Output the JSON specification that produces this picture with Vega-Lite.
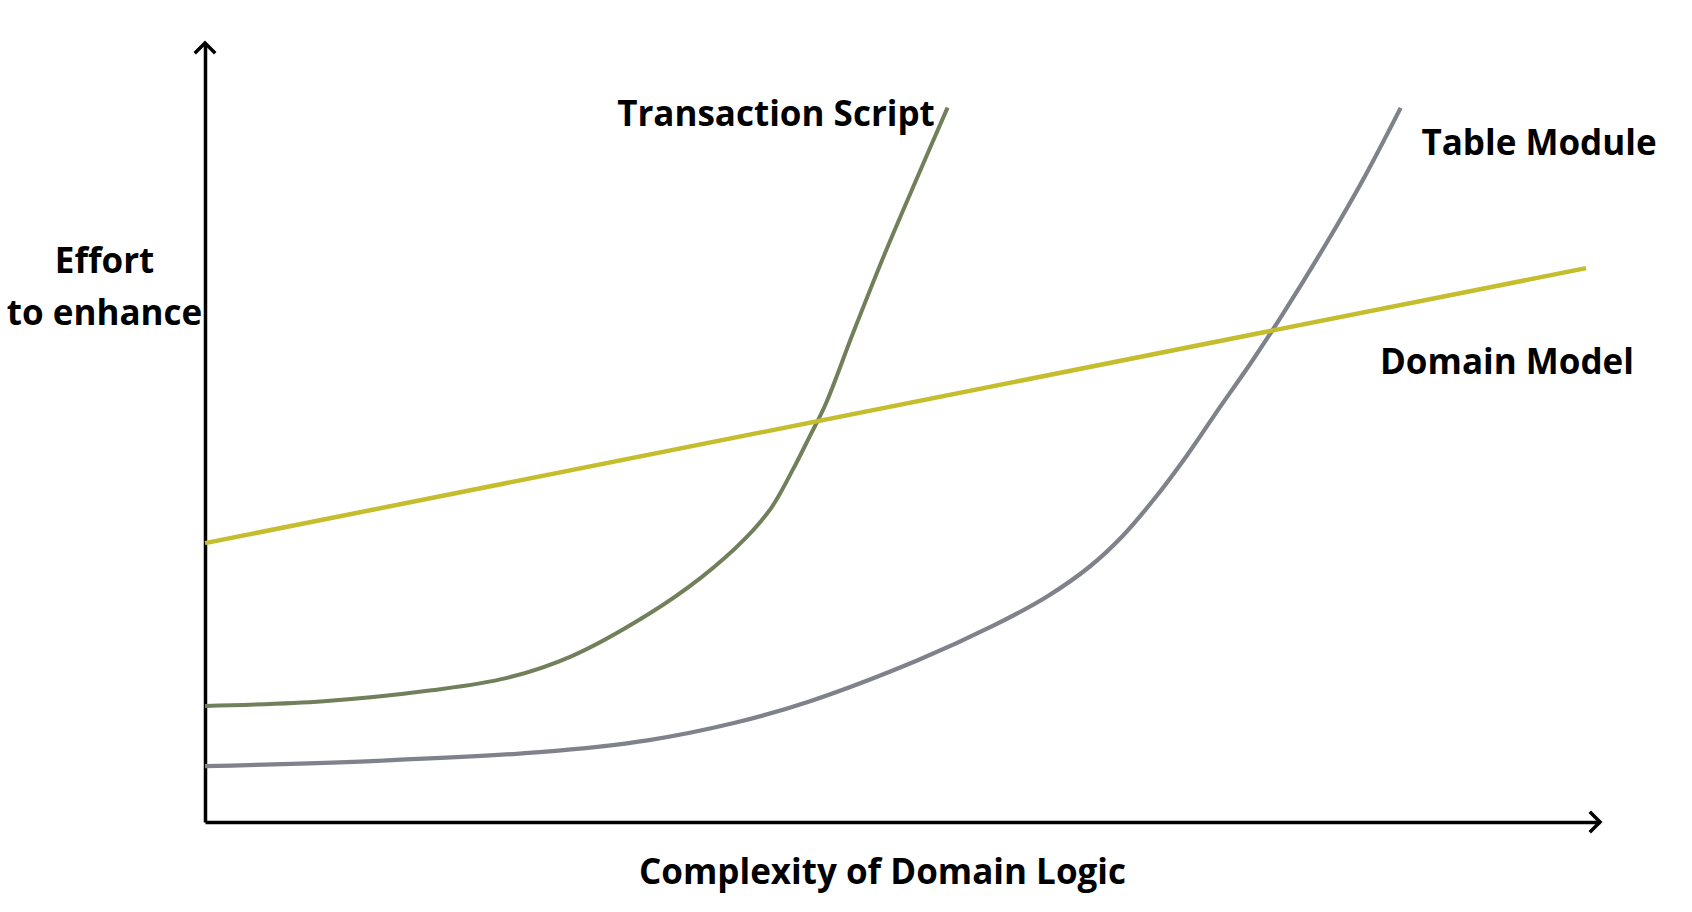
{
  "$schema": "https://vega.github.io/schema/vega-lite/v6.json",
  "width": 1395,
  "height": 779,
  "autosize": {"type": "none"},
  "padding": {"left": 205, "top": 43, "right": 92, "bottom": 90},
  "background": "white",
  "config": {"view": {"stroke": null}, "font": "Open Sans"},
  "datasets": {
    "curves": [
      {"series": "Transaction Script", "complexity": 0, "effort": 14.9},
      {"series": "Transaction Script", "complexity": 8.51, "effort": 15.5},
      {"series": "Transaction Script", "complexity": 16.24, "effort": 16.9},
      {"series": "Transaction Script", "complexity": 21.66, "effort": 18.5},
      {"series": "Transaction Script", "complexity": 26.3, "effort": 21.3},
      {"series": "Transaction Script", "complexity": 31.72, "effort": 26.6},
      {"series": "Transaction Script", "complexity": 35.58, "effort": 31.4},
      {"series": "Transaction Script", "complexity": 38.68, "effort": 36.3},
      {"series": "Transaction Script", "complexity": 40.62, "effort": 40.4},
      {"series": "Transaction Script", "complexity": 42.16, "effort": 45.3},
      {"series": "Transaction Script", "complexity": 43.32, "effort": 49.4},
      {"series": "Transaction Script", "complexity": 44.48, "effort": 53.6},
      {"series": "Transaction Script", "complexity": 46.42, "effort": 62.6},
      {"series": "Transaction Script", "complexity": 48.74, "effort": 73.0},
      {"series": "Transaction Script", "complexity": 51.05, "effort": 82.7},
      {"series": "Transaction Script", "complexity": 53.23, "effort": 91.7},
      {"series": "Table Module", "complexity": 0, "effort": 7.16},
      {"series": "Table Module", "complexity": 12.38, "effort": 7.86},
      {"series": "Table Module", "complexity": 23.98, "effort": 8.97},
      {"series": "Table Module", "complexity": 31.72, "effort": 10.49},
      {"series": "Table Module", "complexity": 37.91, "effort": 12.71},
      {"series": "Table Module", "complexity": 43.32, "effort": 15.48},
      {"series": "Table Module", "complexity": 51.05, "effort": 20.74},
      {"series": "Table Module", "complexity": 56.47, "effort": 25.17},
      {"series": "Table Module", "complexity": 60.34, "effort": 28.92},
      {"series": "Table Module", "complexity": 63.43, "effort": 32.8},
      {"series": "Table Module", "complexity": 65.76, "effort": 36.68},
      {"series": "Table Module", "complexity": 68.07, "effort": 41.53},
      {"series": "Table Module", "complexity": 70.39, "effort": 47.06},
      {"series": "Table Module", "complexity": 72.72, "effort": 53.16},
      {"series": "Table Module", "complexity": 75.04, "effort": 59.11},
      {"series": "Table Module", "complexity": 77.36, "effort": 65.48},
      {"series": "Table Module", "complexity": 80.45, "effort": 74.49},
      {"series": "Table Module", "complexity": 83.16, "effort": 82.94},
      {"series": "Table Module", "complexity": 85.71, "effort": 91.67},
      {"series": "Domain Model", "complexity": 0, "effort": 35.8},
      {"series": "Domain Model", "complexity": 99.0, "effort": 71.1}
    ],
    "labels": [
      {"label": "Transaction Script", "complexity": 40.93, "effort": 90.76},
      {"label": "Table Module", "complexity": 95.63, "effort": 87.0},
      {"label": "Domain Model", "complexity": 93.33, "effort": 58.9}
    ],
    "arrows": [
      {"dir": "up", "complexity": 0, "effort": 100},
      {"dir": "right", "complexity": 100, "effort": 0}
    ]
  },
  "layer": [
    {
      "data": {"name": "curves"},
      "mark": {"type": "line", "interpolate": "catmull-rom", "clip": false},
      "encoding": {
        "x": {
          "field": "complexity",
          "type": "quantitative",
          "scale": {"domain": [0, 100], "nice": false, "zero": false},
          "axis": {
            "title": "Complexity of Domain Logic",
            "domainColor": "black",
            "domainWidth": 3.5,
            "ticks": false,
            "labels": false,
            "grid": false,
            "titleFont": "Open Sans",
            "titleFontSize": 35,
            "titleFontWeight": "bold",
            "titleColor": "black",
            "titleX": 677,
            "titleY": 50,
            "titleAlign": "center",
            "titleBaseline": "middle"
          }
        },
        "y": {
          "field": "effort",
          "type": "quantitative",
          "scale": {"domain": [0, 100], "nice": false, "zero": false},
          "axis": {
            "title": ["Effort", "to enhance"],
            "domainColor": "black",
            "domainWidth": 3.5,
            "ticks": false,
            "labels": false,
            "grid": false,
            "titleFont": "Open Sans",
            "titleFontSize": 35,
            "titleFontWeight": "bold",
            "titleColor": "black",
            "titleAngle": 0,
            "titleX": -101,
            "titleY": 218,
            "titleAlign": "center",
            "titleBaseline": "middle",
            "titleLineHeight": 52
          }
        },
        "detail": {"field": "series"},
        "color": {
          "field": "series",
          "type": "nominal",
          "scale": {
            "domain": ["Transaction Script", "Table Module", "Domain Model"],
            "range": ["#717f5b", "#7f828b", "#c4be2e"]
          },
          "legend": null
        },
        "strokeWidth": {
          "field": "series",
          "type": "nominal",
          "scale": {
            "domain": ["Transaction Script", "Table Module", "Domain Model"],
            "range": [4, 4.5, 3]
          },
          "legend": null
        },
        "order": {"field": "complexity", "type": "quantitative"}
      }
    },
    {
      "data": {"name": "arrows"},
      "mark": {"type": "point", "filled": false, "strokeWidth": 3.5, "color": "black", "opacity": 1, "clip": false},
      "encoding": {
        "x": {"field": "complexity", "type": "quantitative"},
        "y": {"field": "effort", "type": "quantitative"},
        "shape": {
          "field": "dir",
          "type": "nominal",
          "scale": {"domain": ["up", "right"], "range": ["M-1,1L0,0L1,1", "M-1,-1L0,0L-1,1"]},
          "legend": null
        },
        "size": {"value": 420}
      }
    },
    {
      "data": {"name": "labels"},
      "mark": {"type": "text", "font": "Open Sans", "fontSize": 35, "fontWeight": "bold", "color": "black", "align": "center", "baseline": "middle", "clip": false},
      "encoding": {
        "x": {"field": "complexity", "type": "quantitative"},
        "y": {"field": "effort", "type": "quantitative"},
        "text": {"field": "label"}
      }
    }
  ]
}
